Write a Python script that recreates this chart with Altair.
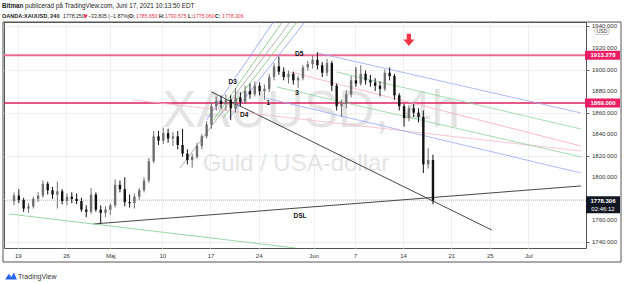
import altair as alt
import pandas as pd

# ---------------- data ----------------
# half-day candles (d = trading days since Apr 19)
opens = [1778,1783,1779,1771,1773,1780,1783,1794,1788,1784,
         1787,1778,1782,1780,1778,1770,1768,1784,1770,1767,
         1770,1774,1793,1789,1777,1776,1782,1788,1797,1815,
         1838,1834,1841,1836,1838,1830,1822,1816,1819,1829,
         1838,1849,1866,1871,1868,1872,1864,1874,1870,1880,
         1877,1885,1880,1882,1893,1903,1898,1893,1896,1890,
         1892,1902,1905,1909,1904,1897,1906,1885,1866,1868,
         1877,1890,1887,1896,1890,1888,1885,1882,1897,1894,
         1876,1866,1855,1864,1860,1856,1812,1816]
highs = [1786,1789,1781,1776,1782,1786,1797,1796,1791,1796,
         1789,1785,1786,1785,1781,1774,1790,1786,1774,1773,
         1776,1798,1797,1800,1784,1785,1790,1800,1818,1843,
         1843,1846,1845,1842,1843,1845,1826,1822,1832,1840,
         1852,1869,1875,1876,1877,1876,1883,1879,1885,1887,
         1889,1888,1886,1896,1906,1912,1902,1899,1898,1894,
         1904,1908,1913,1916,1907,1910,1908,1887,1872,1881,
         1894,1902,1904,1899,1895,1892,1889,1900,1902,1896,
         1878,1868,1867,1868,1864,1862,1827,1821]
lows = [1774,1776,1768,1767,1771,1777,1781,1784,1780,1771,
        1775,1774,1776,1775,1768,1763,1766,1768,1757,1763,
        1765,1772,1786,1773,1772,1771,1779,1786,1795,1813,
        1830,1831,1832,1829,1826,1819,1812,1809,1817,1826,
        1836,1845,1862,1864,1862,1853,1860,1866,1868,1873,
        1875,1876,1872,1879,1890,1895,1890,1887,1886,1883,
        1890,1899,1901,1900,1893,1894,1880,1862,1856,1864,
        1874,1884,1885,1886,1884,1880,1875,1880,1890,1872,
        1862,1847,1852,1856,1851,1804,1808,1775]
closes = [1783,1779,1771,1773,1780,1783,1794,1788,1784,1787,
          1778,1782,1780,1778,1770,1768,1784,1770,1767,1770,
          1774,1793,1789,1777,1776,1782,1788,1797,1815,1838,
          1834,1841,1836,1838,1830,1822,1816,1819,1829,1838,
          1849,1866,1871,1868,1872,1864,1874,1870,1880,1877,
          1885,1880,1882,1893,1903,1898,1893,1896,1890,1892,
          1902,1905,1909,1904,1897,1906,1885,1866,1868,1877,
          1890,1887,1896,1890,1888,1885,1882,1897,1894,1876,
          1866,1855,1864,1860,1856,1812,1816,1778.306]

tick_days = [0, 5, 9.6, 15, 20, 25, 30.7, 35, 40, 45, 49, 53]
tick_labels = ["19", "26", "Maj", "10", "17", "24", "Jun", "7", "14", "21", "25", "Jul"]
price_ticks = [1740, 1760, 1780, 1800, 1820, 1840, 1860, 1880, 1900, 1920, 1940]
price_tick_labels = ["1740.000", "1760.000", "1780.000", "1800.000", "1820.000", "1840.000",
                     "1860.000", "1880.000", "1900.000", "1920.000", "1940.000"]

# drawn lines: start day, start price, end day, end price, colour, width
seg_d1 = [20.1, 7.86, -0.92,
          19.59, 20.31, 16.84, 21.33, 21.94,
          31.1, 33.1, 28.3, 11.9, 26.9, 25.7]
seg_p1 = [1879.2, 1756.7, 1766.0,
          1853.2, 1853.2, 1808.7, 1855.1, 1855.1,
          1915.4, 1897.7, 1897.7, 1871.8, 1883.8, 1873.6]
seg_d2 = [49.2, 58.47, 28.8,
          26.53, 27.45, 28.27, 28.98, 29.80,
          58.47, 58.47, 58.47, 58.47, 58.47, 58.47]
seg_p2 = [1751.1, 1792.0, 1734.4,
          1944.1, 1944.1, 1944.1, 1944.1, 1944.1,
          1859.7, 1844.8, 1829.1, 1824.4, 1818.9, 1804.0]
seg_col = ["#333333", "#333333", "#8fd19e",
           "#8c9bf0", "#7cc47f", "#9e9e9e", "#7cc47f", "#8c9bf0",
           "#9aa7f2", "#8fd19e", "#f5a9c0", "#f7b6c9", "#8fd19e", "#9aa7f2"]
seg_w = [0.9, 0.9, 0.9, 0.8, 0.8, 0.8, 0.8, 0.8, 0.8, 0.8, 0.8, 0.8, 0.8, 0.8]

level_prices = [1913.278, 1869.0]
level_colors = ["#f06a93", "#dc1f5c"]
level_widths = [2, 1.5]
level_labels = ["1913.278", "1869.000"]
last_price = 1778.306

note_text = ["D3", "D4", "D5", "1", "3", "DSL"]
note_day = [22.3, 23.5, 29.2, 26.0, 29.0, 29.3]
note_price = [1888.5, 1857.8, 1914.4, 1869.0, 1878.2, 1764.1]

arrow_day = [40.6]
arrow_price = [1927.4]

# ---------------- chart ----------------
W, H = 582, 226
XD = [-0.92, 58.47]
YD = [1734.4, 1944.1]
FONT = "Liberation Sans"

candles = pd.DataFrame({
    "d": [-0.4 + 0.5 * i for i in range(len(closes))],
    "o": opens, "h": highs, "l": lows, "c": closes,
})
candles["col"] = ["#6f6f6f" if c >= o else "#111111" for o, c in zip(opens, closes)]

xs = alt.Scale(domain=XD, nice=False, zero=False)
ys = alt.Scale(domain=YD, nice=False, zero=False)

expr = "''"
for v, lab in reversed(list(zip(tick_days, tick_labels))):
    expr = f"datum.value == {v} ? '{lab}' : ({expr})"

base = alt.Chart(candles)
xaxis = alt.Axis(values=tick_days, labelExpr=expr, grid=True, gridColor="#efefef",
                 ticks=False, domain=False, labelFontSize=6, labelColor="#333",
                 labelPadding=4, title=None, labelFont=FONT, labelOverlap=False)
yaxis = alt.Axis(values=price_ticks, orient="right", grid=True, labels=False,
                 gridColor="#efefef", tickSize=3, tickColor="#555", domain=False,
                 title=None)

grid_layer = base.mark_point(opacity=0).encode(
    x=alt.X("d:Q", scale=xs, axis=xaxis),
    y=alt.Y("c:Q", scale=ys, axis=yaxis),
)

ylab = pd.DataFrame({"p": price_ticks, "t": price_tick_labels})
ylab_layer = alt.Chart(ylab).mark_text(fontSize=6, font=FONT, color="#333", align="left",
                                       baseline="middle").encode(
    y="p:Q", x=alt.value(588), text="t:N")

wicks = base.mark_rule(strokeWidth=1).encode(
    x="d:Q", y="l:Q", y2="h:Q", color=alt.Color("col:N", scale=None))
bodies = base.mark_bar(width=2.4).encode(
    x="d:Q", y="o:Q", y2="c:Q", color=alt.Color("col:N", scale=None))

segs = pd.DataFrame({"d1": seg_d1, "p1": seg_p1, "d2": seg_d2, "p2": seg_p2,
                     "col": seg_col, "w": seg_w})
seg_layer = alt.Chart(segs).mark_rule(clip=True).encode(
    x="d1:Q", y="p1:Q", x2="d2:Q", y2="p2:Q",
    color=alt.Color("col:N", scale=None),
    strokeWidth=alt.StrokeWidth("w:Q", scale=None))

lv = pd.DataFrame({"p": level_prices, "col": level_colors, "w": level_widths, "lab": level_labels})
level_layer = alt.Chart(lv).mark_rule().encode(
    y="p:Q", color=alt.Color("col:N", scale=None),
    strokeWidth=alt.StrokeWidth("w:Q", scale=None))

lp = pd.DataFrame({"p": [last_price], "lab": ["1778.306"], "t2": ["02:46:12"]})
last_line = alt.Chart(lp).mark_rule(color="#c8c8c8", strokeWidth=1, strokeDash=[1, 1]).encode(y="p:Q")

notes = pd.DataFrame({"t": note_text, "d": note_day, "p": note_price})
note_layer = alt.Chart(notes).mark_text(fontSize=6.5, font=FONT, color="#111",
                                        fontWeight="bold").encode(x="d:Q", y="p:Q", text="t:N")

arrow = pd.DataFrame({"d": arrow_day, "p": arrow_price})
arrow_layer = alt.Chart(arrow).mark_point(
    shape="M-0.35,-1 L0.35,-1 L0.35,-0.1 L0.9,-0.1 L0,1 L-0.9,-0.1 L-0.35,-0.1 Z",
    filled=True, color="#f23645", opacity=1, size=150).encode(x="d:Q", y="p:Q")

one = pd.DataFrame({"k": [0]})


def txt(s, x, y, size=6.5, color="#222", weight="normal", align="left", font=FONT, baseline="alphabetic"):
    return alt.Chart(one).mark_text(text=s, fontSize=size, color=color, fontWeight=weight,
                                    align=align, font=font, baseline=baseline).encode(
        x=alt.value(x), y=alt.value(y))


watermark = [
    txt("XAUUSD, 4h", 307, 105, size=51, color="#e4e4e4", align="center"),
    txt("Guld / USA-dollar", 292, 149, size=24, color="#e4e4e4", align="center"),
]

# price-axis label boxes
box_levels = alt.Chart(lv).mark_rule(strokeWidth=9, color="#e91e63").encode(
    y="p:Q", x=alt.value(581), x2=alt.value(616))
box_text = alt.Chart(lv).mark_text(color="white", fontSize=6, fontWeight="bold",
                                   font=FONT, align="center", baseline="middle").encode(
    y="p:Q", x=alt.value(599), text="lab:N")
last_box = alt.Chart(lp).mark_rule(strokeWidth=17, color="#131722", yOffset=4).encode(
    y="p:Q", x=alt.value(582), x2=alt.value(616))
last_text = alt.Chart(lp).mark_text(color="white", fontSize=6, fontWeight="bold",
                                    font=FONT, align="center", baseline="middle").encode(
    y="p:Q", x=alt.value(599), text="lab:N")
last_text2 = alt.Chart(lp).mark_text(color="white", fontSize=6, font=FONT,
                                     align="center", baseline="middle", dy=8).encode(
    y="p:Q", x=alt.value(599), text="t2:N")

usd_box = alt.Chart(one).mark_rect(fill="white", stroke="#b0b0b0", strokeWidth=0.7, cornerRadius=2).encode(
    x=alt.value(591), x2=alt.value(605), y=alt.value(6), y2=alt.value(12.5))
usd_txt = txt("USD", 598, 11.3, size=5, color="#333", align="center")

frame = alt.Chart(one).mark_rect(fill=None, stroke="#555", strokeWidth=1).encode(
    x=alt.value(-1), x2=alt.value(617), y=alt.value(0), y2=alt.value(240))

# header
H1 = 6.3
H2 = 5.2
hdr = [
    txt("Bitman", -2, -14, size=H1, weight="bold"),
    txt("publicerad på TradingView.com, Juni 17, 2021 10:13:50 EDT", 21, -14, size=H1),
    txt("OANDA:XAUUSD, 240", -2, -4, size=H2 + 0.3, weight="bold"),
    txt("1778.250", 59, -4, size=H2),
    txt("▼", 79.5, -4, size=5.5, color="#f23645", font="DejaVu Sans"),
    txt("−33.805 (−1.87%)", 84, -4, size=H2),
    txt("O:", 125, -4, size=H2, weight="bold"),
    txt("1785.650", 132, -4, size=H2, color="#f23645"),
    txt("H:", 155, -4, size=H2, weight="bold"),
    txt("1790.575", 161, -4, size=H2, color="#f23645"),
    txt("L:", 184, -4, size=H2, weight="bold"),
    txt("1775.060", 189, -4, size=H2, color="#f23645"),
    txt("C:", 211, -4, size=H2, weight="bold"),
    txt("1778.306", 218, -4, size=H2, color="#f23645"),
]

logo = [
    alt.Chart(one).mark_point(
        shape="M-1,0.6 L-0.35,-0.4 L0.05,0.15 L0.5,-0.6 L1,0.6 Z",
        filled=True, color="#2962ff", size=140, opacity=1).encode(x=alt.value(7), y=alt.value(254)),
    txt("TradingView", 14, 257, size=7, color="#333"),
]

chart = alt.layer(
    grid_layer, *watermark, level_layer, last_line, seg_layer, wicks, bodies,
    note_layer, arrow_layer, ylab_layer, box_levels, box_text, last_box, last_text, last_text2,
    usd_box, usd_txt, frame, *hdr, *logo,
).properties(
    width=W, height=H,
    padding={"left": 4, "top": 22, "right": 39, "bottom": 35},
    autosize=alt.AutoSizeParams(type="none"),
    background="white",
).configure_view(
    stroke="#555", strokeWidth=1
).configure_axisX(
    labelOverlap=False
)

chart.save("out.html", embed_options={"renderer": "svg", "actions": False})
